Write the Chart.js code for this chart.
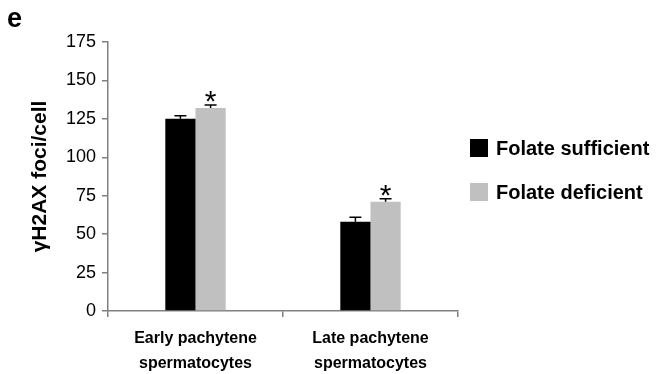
<!DOCTYPE html>
<html>
<head>
<meta charset="utf-8">
<script src="https://cdn.jsdelivr.net/npm/chart.js@4.4.0/dist/chart.umd.min.js"></script>
<style>
  html, body { margin: 0; padding: 0; background: #fff; }
  #wrap { position: relative; width: 661px; height: 374px; }
</style>
</head>
<body>
<div id="wrap"><canvas id="mycanvas" width="661" height="374"></canvas></div>
<script>
var categories = [["Early pachytene", "spermatocytes"], ["Late pachytene", "spermatocytes"]];
var sufficient = [125, 58];
var deficient = [132, 71];
var errSufficient = [2, 3];
var errDeficient = [2, 2];
var significant = [true, true];
var yTicks = [0, 25, 50, 75, 100, 125, 150, 175];

var FONT = "'Liberation Sans', Arial, sans-serif";

// error bars, asterisks, panel letter and legend
var extras = {
  id: 'extras',
  afterDatasetsDraw: function(chart) {
    var ctx = chart.ctx;
    var y = chart.scales.y;
    var errs = [errSufficient, errDeficient];
    ctx.save();
    ctx.strokeStyle = "#000";
    ctx.lineWidth = 1.5;
    chart.data.datasets.forEach(function(ds, d) {
      chart.getDatasetMeta(d).data.forEach(function(bar, i) {
        var top = y.getPixelForValue(ds.data[i]);
        var hi = y.getPixelForValue(ds.data[i] + errs[d][i]);
        ctx.beginPath();
        ctx.moveTo(bar.x, top);
        ctx.lineTo(bar.x, hi);
        ctx.moveTo(bar.x - 6, hi);
        ctx.lineTo(bar.x + 6, hi);
        ctx.stroke();
        if (d === 1 && significant[i]) {
          ctx.fillStyle = "#000";
          ctx.font = "30px " + FONT;
          ctx.textAlign = "center";
          ctx.textBaseline = "alphabetic";
          ctx.fillText("*", bar.x, hi + 6);
        }
      });
    });
    ctx.restore();
  },
  afterDraw: function(chart) {
    var ctx = chart.ctx;
    ctx.save();
    ctx.fillStyle = "#000";
    ctx.font = "bold 27px " + FONT;
    ctx.textBaseline = "alphabetic";
    ctx.textAlign = "left";
    ctx.fillText("e", 7, 27);
    ctx.font = "bold 20px " + FONT;
    ctx.textBaseline = "middle";
    chart.data.datasets.forEach(function(ds, d) {
      var cy = 148 + d * 44;
      ctx.fillStyle = ds.backgroundColor;
      ctx.fillRect(470, cy - 9, 18, 18);
      ctx.fillStyle = "#000";
      ctx.fillText(ds.label, 496, cy + 1);
    });
    ctx.restore();
  }
};

var chartdata = {
  labels: categories,
  datasets: [
    {
      label: "Folate sufficient",
      backgroundColor: "#000000",
      data: sufficient,
      categoryPercentage: 0.345,
      barPercentage: 1.0
    },
    {
      label: "Folate deficient",
      backgroundColor: "#c0c0c0",
      data: deficient,
      categoryPercentage: 0.345,
      barPercentage: 1.0
    }
  ]
};

var ctx = document.getElementById("mycanvas");

var BarGraph = new Chart(ctx, {
  type: 'bar',
  data: chartdata,
  plugins: [extras],
  options: {
    responsive: false,
    animation: false,
    layout: { padding: { top: 42, right: 203, left: 28, bottom: 0 } },
    plugins: {
      legend: { display: false },
      tooltip: { enabled: false }
    },
    scales: {
      x: {
        grid: { offset: true, drawOnChartArea: false, tickLength: 6, color: "#808080", lineWidth: 1.5 },
        border: { color: "#808080", width: 1.5 },
        ticks: {
          color: "#000",
          font: { family: FONT, size: 16, weight: "bold", lineHeight: 1.55 },
          padding: 9,
          maxRotation: 0
        },
        afterFit: function(scale) { scale.height = 63; }
      },
      y: {
        min: 0,
        max: 175,
        afterBuildTicks: function(scale) {
          scale.ticks = yTicks.map(function(v) { return { value: v }; });
        },
        grid: { drawOnChartArea: false, tickLength: 6, color: "#808080", lineWidth: 1.5 },
        border: { color: "#808080", width: 1.5 },
        ticks: {
          color: "#000",
          font: { family: FONT, size: 18 },
          padding: 6
        },
        title: {
          display: true,
          text: "γH2AX foci/cell",
          color: "#000",
          font: { family: FONT, size: 21, weight: "bold" },
          padding: { top: 0, bottom: 4 }
        },
        afterFit: function(scale) { scale.width = 80; }
      }
    }
  }
});
</script>
</body>
</html>
